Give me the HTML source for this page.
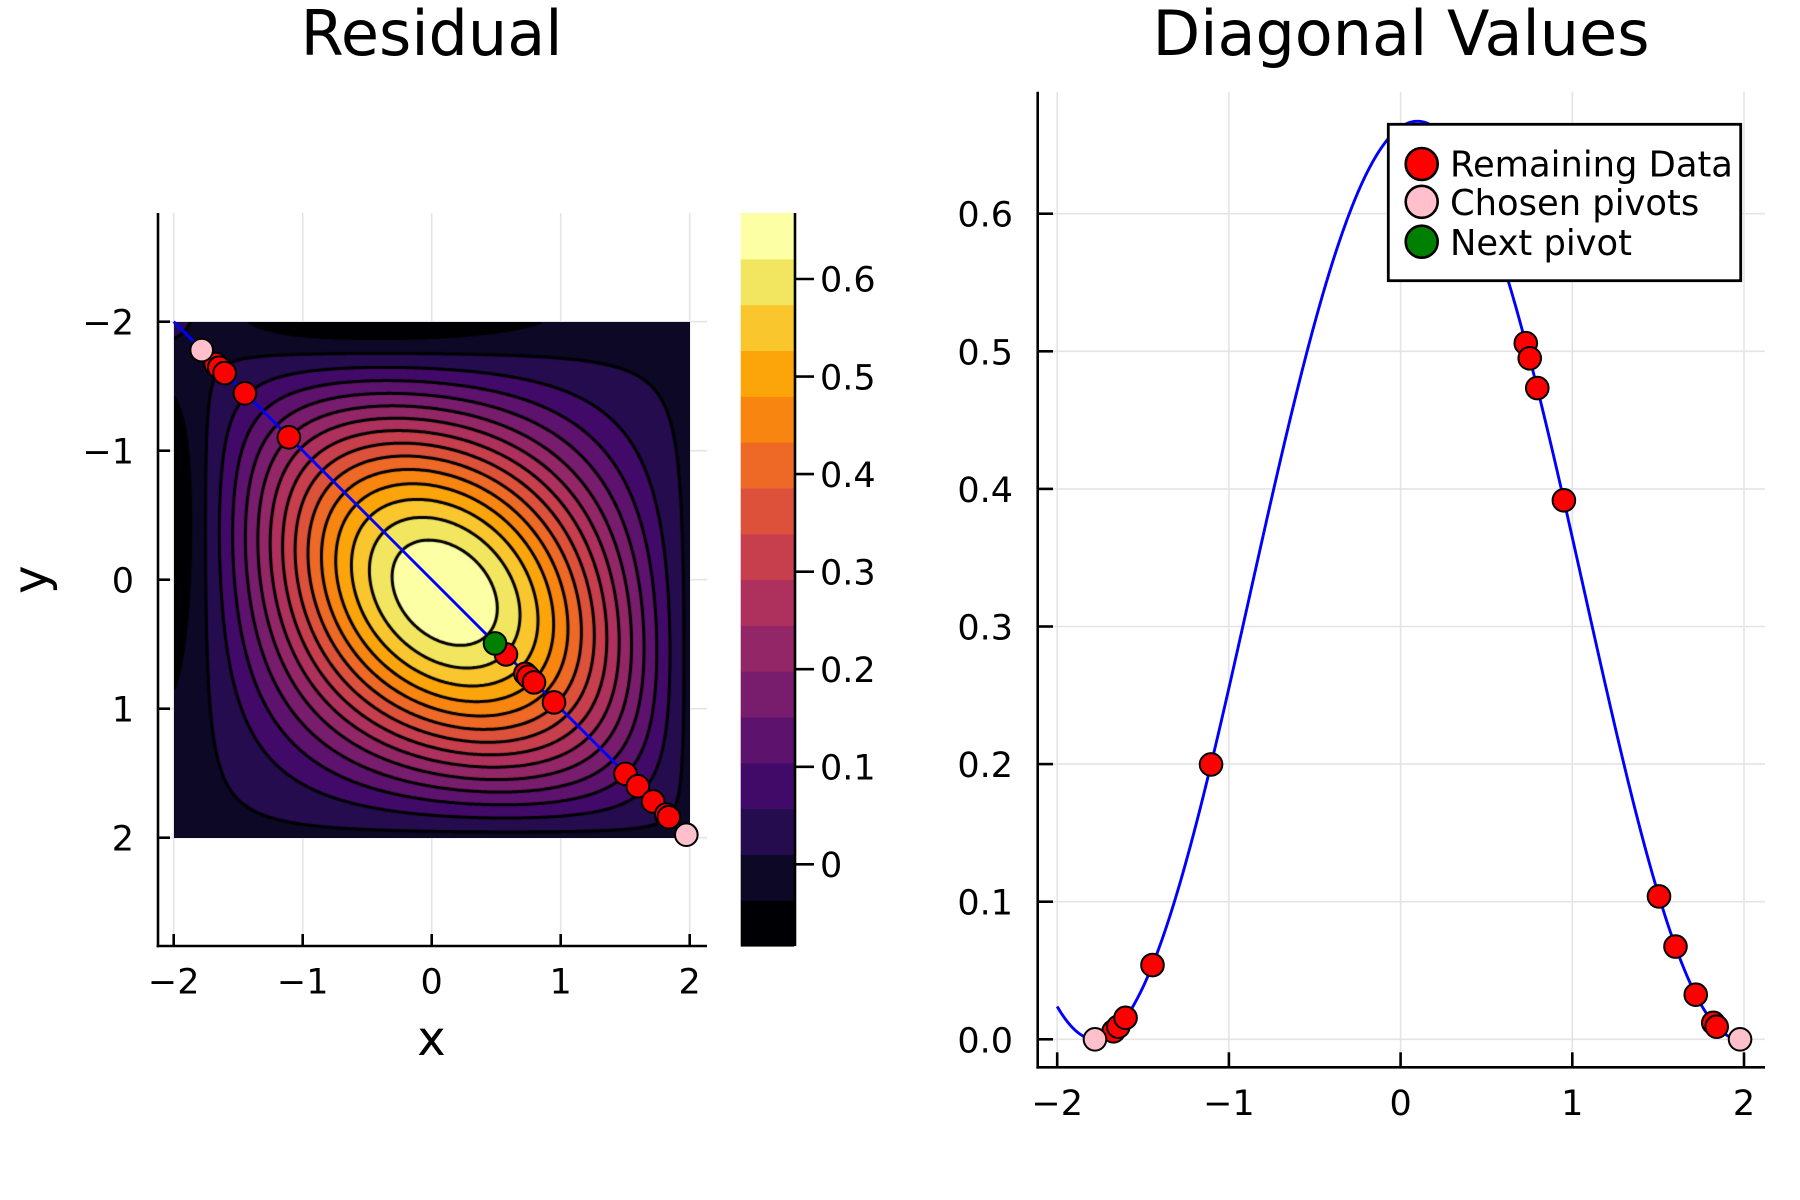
<!DOCTYPE html>
<html>
<head>
<meta charset="utf-8">
<style>
  html,body{margin:0;padding:0;background:#fff;}
  #wrap{position:relative;width:1800px;height:1200px;overflow:hidden;background:#fff;}
  svg,canvas{position:absolute;}
  text{font-family:"DejaVu Sans","Liberation Sans",sans-serif;fill:#000;}
</style>
</head>
<body>
<div id="wrap">
  <!-- back layer: left plot grid -->
  <svg id="back" width="1800" height="1200" style="left:0;top:0">
    <g stroke="#e4e4e4" stroke-width="1.6">
      <line x1="173.7" y1="213" x2="173.7" y2="946"/>
      <line x1="302.7" y1="213" x2="302.7" y2="946"/>
      <line x1="431.7" y1="213" x2="431.7" y2="946"/>
      <line x1="560.7" y1="213" x2="560.7" y2="946"/>
      <line x1="689.7" y1="213" x2="689.7" y2="946"/>
      <line x1="158" y1="321.7" x2="707" y2="321.7"/>
      <line x1="158" y1="450.7" x2="707" y2="450.7"/>
      <line x1="158" y1="579.7" x2="707" y2="579.7"/>
      <line x1="158" y1="708.7" x2="707" y2="708.7"/>
      <line x1="158" y1="837.7" x2="707" y2="837.7"/>
    </g>
  </svg>
  <canvas id="cv" width="516" height="516" style="left:174px;top:322px;width:516px;height:516px"></canvas>
  <svg id="front" width="1800" height="1200" style="left:0;top:0">
    <!-- titles -->
    <text x="431.5" y="55" font-size="62" text-anchor="middle">Residual</text>
    <text x="1401" y="55" font-size="62" text-anchor="middle">Diagonal Values</text>

    <!-- left plot diag line -->
    <line x1="173.7" y1="321.7" x2="689.7" y2="837.7" stroke="#0000ff" stroke-width="2.9"/>
    <g id="leftMarkers"></g>

    <!-- left spines -->
    <g stroke="#000" stroke-width="2.6" fill="none">
      <line x1="158" y1="213" x2="158" y2="947.3"/>
      <line x1="156.7" y1="946" x2="707" y2="946"/>
      <line x1="158" y1="321.7" x2="170" y2="321.7"/>
      <line x1="158" y1="450.7" x2="170" y2="450.7"/>
      <line x1="158" y1="579.7" x2="170" y2="579.7"/>
      <line x1="158" y1="708.7" x2="170" y2="708.7"/>
      <line x1="158" y1="837.7" x2="170" y2="837.7"/>
      <line x1="173.7" y1="946" x2="173.7" y2="934"/>
      <line x1="302.7" y1="946" x2="302.7" y2="934"/>
      <line x1="431.7" y1="946" x2="431.7" y2="934"/>
      <line x1="560.7" y1="946" x2="560.7" y2="934"/>
      <line x1="689.7" y1="946" x2="689.7" y2="934"/>
    </g>
    <g font-size="35" text-anchor="end">
      <text x="134" y="334.4">−2</text>
      <text x="134" y="463.4">−1</text>
      <text x="134" y="592.4">0</text>
      <text x="134" y="721.4">1</text>
      <text x="134" y="850.4">2</text>
    </g>
    <g font-size="35" text-anchor="middle">
      <text x="173.7" y="993.3">−2</text>
      <text x="302.7" y="993.3">−1</text>
      <text x="431.7" y="993.3">0</text>
      <text x="560.7" y="993.3">1</text>
      <text x="689.7" y="993.3">2</text>
    </g>
    <text x="431.5" y="1055" font-size="48" text-anchor="middle">x</text>
    <text transform="translate(47,579.7) rotate(-90)" x="0" y="0" font-size="48" text-anchor="middle">y</text>

    <!-- colorbar -->
    <g id="cbar"></g>
    <g stroke="#000" stroke-width="2.6">
      <line x1="795" y1="213" x2="795" y2="946"/>
      <line x1="795" y1="279" x2="814" y2="279"/>
      <line x1="795" y1="376.6" x2="814" y2="376.6"/>
      <line x1="795" y1="474.1" x2="814" y2="474.1"/>
      <line x1="795" y1="571.7" x2="814" y2="571.7"/>
      <line x1="795" y1="669.2" x2="814" y2="669.2"/>
      <line x1="795" y1="766.8" x2="814" y2="766.8"/>
      <line x1="795" y1="864.3" x2="814" y2="864.3"/>
    </g>
    <g font-size="35" text-anchor="start">
      <text x="820" y="291.7">0.6</text>
      <text x="820" y="389.3">0.5</text>
      <text x="820" y="486.8">0.4</text>
      <text x="820" y="584.4">0.3</text>
      <text x="820" y="681.9">0.2</text>
      <text x="820" y="779.5">0.1</text>
      <text x="820" y="877">0</text>
    </g>

    <!-- right plot grid -->
    <g stroke="#e4e4e4" stroke-width="1.6">
      <line x1="1057.2" y1="91.7" x2="1057.2" y2="1067"/>
      <line x1="1228.9" y1="91.7" x2="1228.9" y2="1067"/>
      <line x1="1400.6" y1="91.7" x2="1400.6" y2="1067"/>
      <line x1="1572.3" y1="91.7" x2="1572.3" y2="1067"/>
      <line x1="1744" y1="91.7" x2="1744" y2="1067"/>
      <line x1="1038" y1="1039.3" x2="1765" y2="1039.3"/>
      <line x1="1038" y1="901.7" x2="1765" y2="901.7"/>
      <line x1="1038" y1="764.1" x2="1765" y2="764.1"/>
      <line x1="1038" y1="626.5" x2="1765" y2="626.5"/>
      <line x1="1038" y1="488.9" x2="1765" y2="488.9"/>
      <line x1="1038" y1="351.3" x2="1765" y2="351.3"/>
      <line x1="1038" y1="213.7" x2="1765" y2="213.7"/>
    </g>
    <path id="curve" d="" stroke="#0000ff" stroke-width="2.9" fill="none"/>
    <g id="rightMarkers"></g>

    <!-- right spines -->
    <g stroke="#000" stroke-width="2.6" fill="none">
      <line x1="1037.7" y1="91.7" x2="1037.7" y2="1068.6"/>
      <line x1="1036.4" y1="1067.3" x2="1765" y2="1067.3"/>
      <line x1="1037.7" y1="1039.3" x2="1053" y2="1039.3"/>
      <line x1="1037.7" y1="901.7" x2="1053" y2="901.7"/>
      <line x1="1037.7" y1="764.1" x2="1053" y2="764.1"/>
      <line x1="1037.7" y1="626.5" x2="1053" y2="626.5"/>
      <line x1="1037.7" y1="488.9" x2="1053" y2="488.9"/>
      <line x1="1037.7" y1="351.3" x2="1053" y2="351.3"/>
      <line x1="1037.7" y1="213.7" x2="1053" y2="213.7"/>
      <line x1="1057.2" y1="1067.3" x2="1057.2" y2="1052.3"/>
      <line x1="1228.9" y1="1067.3" x2="1228.9" y2="1052.3"/>
      <line x1="1400.6" y1="1067.3" x2="1400.6" y2="1052.3"/>
      <line x1="1572.3" y1="1067.3" x2="1572.3" y2="1052.3"/>
      <line x1="1744" y1="1067.3" x2="1744" y2="1052.3"/>
    </g>
    <g font-size="35" text-anchor="end">
      <text x="1013" y="1052.3">0.0</text>
      <text x="1013" y="914.7">0.1</text>
      <text x="1013" y="777.1">0.2</text>
      <text x="1013" y="639.5">0.3</text>
      <text x="1013" y="501.9">0.4</text>
      <text x="1013" y="364.3">0.5</text>
      <text x="1013" y="226.7">0.6</text>
    </g>
    <g font-size="35" text-anchor="middle">
      <text x="1057.2" y="1115">−2</text>
      <text x="1228.9" y="1115">−1</text>
      <text x="1400.6" y="1115">0</text>
      <text x="1572.3" y="1115">1</text>
      <text x="1744" y="1115">2</text>
    </g>

    <!-- legend -->
    <rect x="1388.3" y="124.3" width="352.4" height="156.4" fill="#fff" stroke="#000" stroke-width="2.8"/>
    <circle cx="1421.7" cy="164" r="16" fill="#ff0000" stroke="#000" stroke-width="2.6"/>
    <circle cx="1421.7" cy="201.8" r="16" fill="#ffc0cb" stroke="#000" stroke-width="2.6"/>
    <circle cx="1421.7" cy="241.7" r="16" fill="#008000" stroke="#000" stroke-width="2.6"/>
    <g font-size="35.3">
      <text x="1450" y="176.7">Remaining Data</text>
      <text x="1450" y="215">Chosen pivots</text>
      <text x="1450" y="254.8">Next pivot</text>
    </g>
  </svg>
</div>
<script>
(function(){
  var NS="http://www.w3.org/2000/svg";
  var pa=-1.78, pb=1.977;
  function k(x,y){var d=x-y;return Math.exp(-d*d/4);}
  var kab=k(pa,pb), det=1-kab*kab;
  function R(x,y){
    var xa=k(x,pa), xb=k(x,pb), ya=k(y,pa), yb=k(y,pb);
    return k(x,y)-(xa*ya+xb*yb-kab*(xa*yb+xb*ya))/det;
  }
  var colors=['#000004','#0c0826','#240c4f','#420a68','#5d126e','#781c6d','#932667','#ae305c',
              '#c73e4c','#dd513a','#ed6925','#f8850f','#fca50a','#fac62d','#f2e661','#fcffa4'];
  function hex(c){return [parseInt(c.substr(1,2),16),parseInt(c.substr(3,2),16),parseInt(c.substr(5,2),16)];}
  var rgb=colors.map(hex);

  var cb=document.getElementById('cbar');
  var top=213, bot=946, bh=(bot-top)/16;
  for(var i=0;i<16;i++){
    var r=document.createElementNS(NS,'rect');
    r.setAttribute('x',740.7); r.setAttribute('width',53.5);
    r.setAttribute('y',(bot-(i+1)*bh).toFixed(2)); r.setAttribute('height',(bh+0.6).toFixed(2));
    r.setAttribute('fill',colors[i]);
    cb.appendChild(r);
  }

  var N=516;
  var V=new Float64Array(N*N);
  var zmin=1e9,zmax=-1e9;
  for(var j=0;j<N;j++){
    var y=-2+(j+0.5)*4/N;
    for(var i=0;i<N;i++){
      var x=-2+(i+0.5)*4/N;
      var v=R(x,y); V[j*N+i]=v;
      if(v<zmin)zmin=v; if(v>zmax)zmax=v;
    }
  }
  zmin=Math.min(zmin,-0.0838); zmax=Math.max(zmax,0.6676);
  var cv=document.getElementById('cv'); var ctx=cv.getContext('2d');
  var img=ctx.createImageData(N,N);
  for(var p=0;p<N*N;p++){
    var idx=Math.floor((V[p]-zmin)/(zmax-zmin)*16); if(idx<0)idx=0; if(idx>15)idx=15;
    var c=rgb[idx];
    img.data[p*4]=c[0]; img.data[p*4+1]=c[1]; img.data[p*4+2]=c[2]; img.data[p*4+3]=255;
  }
  ctx.putImageData(img,0,0);

  ctx.strokeStyle='#000'; ctx.lineWidth=3; ctx.lineCap='round'; ctx.lineJoin='round';
  var S=2;
  for(var l=1;l<16;l++){
    var L=zmin+l*(zmax-zmin)/16;
    ctx.beginPath();
    for(var j=0;j+S<N;j+=S){
      for(var i=0;i+S<N;i+=S){
        var a=V[j*N+i], b=V[j*N+i+S], c2=V[(j+S)*N+i+S], d=V[(j+S)*N+i];
        var pts=[];
        if((a<L)!=(b<L)) pts.push([i+S*(L-a)/(b-a), j]);
        if((b<L)!=(c2<L)) pts.push([i+S, j+S*(L-b)/(c2-b)]);
        if((c2<L)!=(d<L)) pts.push([i+S-S*(L-c2)/(d-c2), j+S]);
        if((d<L)!=(a<L)) pts.push([i, j+S-S*(L-d)/(a-d)]);
        if(pts.length>=2){
          ctx.moveTo(pts[0][0]+0.5,pts[0][1]+0.5); ctx.lineTo(pts[1][0]+0.5,pts[1][1]+0.5);
          if(pts.length==4){ctx.moveTo(pts[2][0]+0.5,pts[2][1]+0.5); ctx.lineTo(pts[3][0]+0.5,pts[3][1]+0.5);}
        }
      }
    }
    ctx.stroke();
  }

  var reds=[-1.672,-1.644,-1.602,-1.445,-1.104,0.579,0.729,0.752,0.796,0.951,1.505,1.601,1.719,1.821,1.841];
  var pinks=[-1.78,1.977];
  var greens=[0.494];
  function circ(g,cx,cy,fill){
    var c=document.createElementNS(NS,'circle');
    c.setAttribute('cx',cx.toFixed(2)); c.setAttribute('cy',cy.toFixed(2)); c.setAttribute('r',11.3);
    c.setAttribute('fill',fill); c.setAttribute('stroke','#000'); c.setAttribute('stroke-width',2);
    g.appendChild(c);
  }
  var lm=document.getElementById('leftMarkers'), rm=document.getElementById('rightMarkers');
  function lx(x){return 431.3+129*x;} function ly(y){return 579.7+129*y;}
  function rx(x){return 1057.2+171.7*(x+2);} function ry(v){return 1039.3-1376*v;}
  [[reds,'#ff0000'],[pinks,'#ffc0cb'],[greens,'#008000']].forEach(function(s){
    s[0].forEach(function(x){
      circ(lm,lx(x),ly(x),s[1]);
      circ(rm,rx(x),ry(R(x,x)),s[1]);
    });
  });

  var d='';
  for(var t=0;t<=800;t++){
    var x=-2+4*t/800;
    d+=(t?'L':'M')+rx(x).toFixed(2)+' '+ry(R(x,x)).toFixed(2);
  }
  document.getElementById('curve').setAttribute('d',d);
})();
</script>
</body>
</html>
